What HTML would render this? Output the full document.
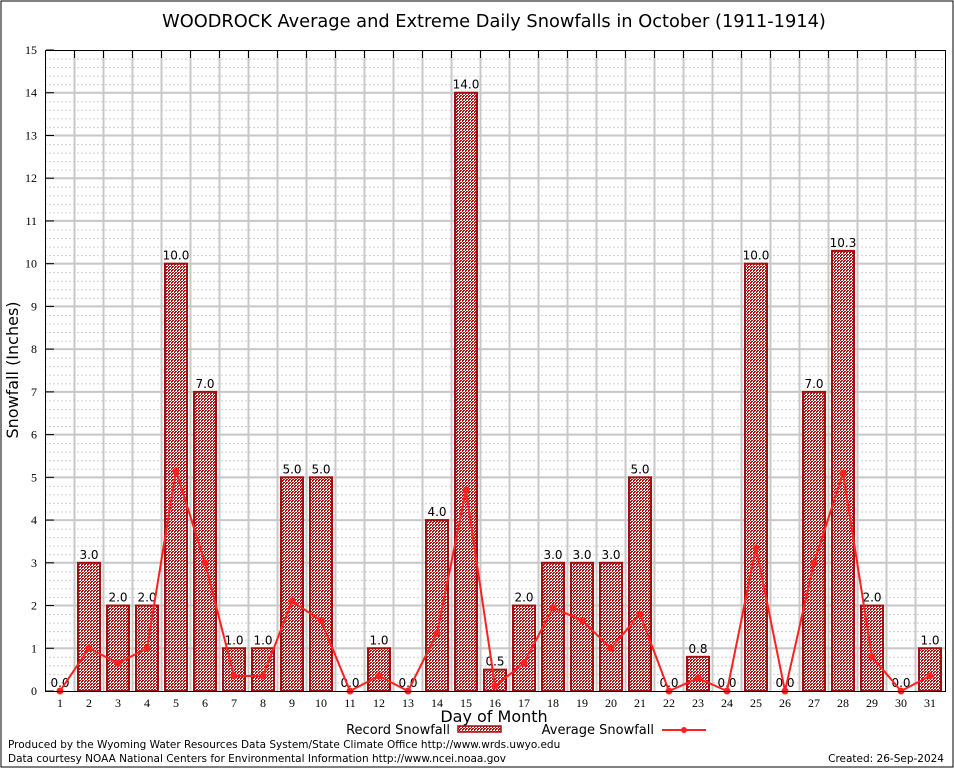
<!DOCTYPE html>
<html><head><meta charset="utf-8"><style>
html,body{margin:0;padding:0;background:#fff}
svg{display:block;font-family:"DejaVu Sans","Liberation Sans",sans-serif}
</style></head><body>
<svg id="chart" width="954" height="768" viewBox="0 0 954 768">
<defs>
<pattern id="hatch" width="3" height="3" patternUnits="userSpaceOnUse">
<rect width="3" height="3" fill="#fff"/>
<rect width="2" height="1" fill="#b81010"/><rect x="1" y="2" width="2" height="1" fill="#b81010"/><rect x="0" y="1" width="1" height="1" fill="#b81010"/>
</pattern>
<pattern id="dots" width="4" height="8.546" patternUnits="userSpaceOnUse" x="45" y="50">
<rect width="4" height="8.546" fill="#fff"/>
<rect x="0" y="0" width="2" height="1" fill="#cfcfcf"/>
</pattern>
</defs>
<rect x="1" y="1" width="952" height="766" fill="#fff" stroke="#000" stroke-width="1"/>
<text x="494" y="27" font-size="17.8" text-anchor="middle">WOODROCK Average and Extreme Daily Snowfalls in October (1911-1914)</text>
<rect x="45.5" y="50.5" width="900" height="641" fill="url(#dots)"/>
<g id="grid"></g>
<g id="bars"></g>
<g id="line"></g>
<g id="axes"></g>
<rect x="45.5" y="50.5" width="900" height="641" fill="none" stroke="#000"/>
<text x="18" y="370" font-size="16" text-anchor="middle" transform="rotate(-90 18 370)">Snowfall (Inches)</text>
<text x="494" y="722" font-size="16" text-anchor="middle">Day of Month</text>
<g>
<text x="450" y="734" font-size="13" text-anchor="end">Record Snowfall</text>
<rect x="458" y="726" width="43" height="6" fill="url(#hatch)" stroke="#a01010" stroke-width="1.5"/>
<text x="654" y="734" font-size="13" text-anchor="end">Average Snowfall</text>
<line x1="662" y1="730" x2="706" y2="730" stroke="#ff2020" stroke-width="2"/>
<circle cx="684" cy="730" r="3" fill="#ff2020"/>
</g>
<text x="8" y="748" font-size="10.5">Produced by the Wyoming Water Resources Data System/State Climate Office http://www.wrds.uwyo.edu</text>
<text x="8" y="762" font-size="10.5">Data courtesy NOAA National Centers for Environmental Information http://www.ncei.noaa.gov</text>
<text x="944" y="762" font-size="10.5" text-anchor="end">Created: 26-Sep-2024</text>
</svg>
<script>
const days=[1,2,3,4,5,6,7,8,9,10,11,12,13,14,15,16,17,18,19,20,21,22,23,24,25,26,27,28,29,30,31];
const recordValues=[0.0,3.0,2.0,2.0,10.0,7.0,1.0,1.0,5.0,5.0,0.0,1.0,0.0,4.0,14.0,0.5,2.0,3.0,3.0,3.0,5.0,0.0,0.8,0.0,10.0,0.0,7.0,10.3,2.0,0.0,1.0];
const averageValues=[0,1.0,0.65,1.0,5.15,3.0,0.35,0.35,2.1,1.65,0,0.35,0,1.35,4.7,0.12,0.65,1.95,1.65,1.0,1.8,0,0.3,0,3.35,0,3.0,5.1,0.8,0,0.35];
const yTicks=[0,1,2,3,4,5,6,7,8,9,10,11,12,13,14,15];
const NS="http://www.w3.org/2000/svg";
const x=d=>60+(d-1)*29;
const y=v=>691-v*(641/15);
function mk(tag,attrs,parent,text){const e=document.createElementNS(NS,tag);for(const k in attrs)e.setAttribute(k,attrs[k]);if(text!==undefined)e.textContent=text;parent.appendChild(e);return e;}
const grid=document.getElementById('grid'),bars=document.getElementById('bars'),line=document.getElementById('line'),axes=document.getElementById('axes');
yTicks.forEach(t=>{
  if(t>0&&t<15){const g=mk('line',{x1:46,x2:945,y1:y(t),y2:y(t),stroke:'#c8c8c8','stroke-width':2},grid);
  
  }
  const l=mk('text',{x:37,y:y(t)+4,'font-size':12,'text-anchor':'end','font-family':'Liberation Serif, serif'},axes,String(t));
  
  
  const tk=mk('line',{x1:46,x2:54,y1:y(t),y2:y(t),stroke:'#000'},axes);
  
  
});
days.forEach((d,i)=>{
  const xc=x(d)+14.5;
  if(i<days.length-1){const g=mk('line',{x1:xc,x2:xc,y1:51,y2:691,stroke:'#c8c8c8','stroke-width':2},grid);
  
  
  const tk=mk('line',{x1:xc,x2:xc,y1:51,y2:58,stroke:'#000'},axes);
  
  }
  const l=mk('text',{x:x(d),y:707,'font-size':12,'text-anchor':'middle','font-family':'Liberation Serif, serif'},axes,String(d));
  
  
  const v=recordValues[i];
  if(v>0){const b=mk('rect',{x:x(d)-11,y:y(v),width:22,height:691-y(v),fill:'url(#hatch)',stroke:'#a01010','stroke-width':2},bars);
  
  }
  const t=mk('text',{x:x(d),y:y(v)-4,'font-size':12,'text-anchor':'middle'},bars,v.toFixed(1));
  
  
});
const pts=days.map((d,i)=>x(d)+','+y(averageValues[i])).join(' ');
const pl=mk('polyline',{points:pts,fill:'none',stroke:'#ff2020','stroke-width':2},line);


days.forEach((d,i)=>{
  const c=mk('circle',{cx:x(d),cy:y(averageValues[i]),r:3.5,fill:'#ff2020'},line);
  
  
});
</script>
</body></html>
